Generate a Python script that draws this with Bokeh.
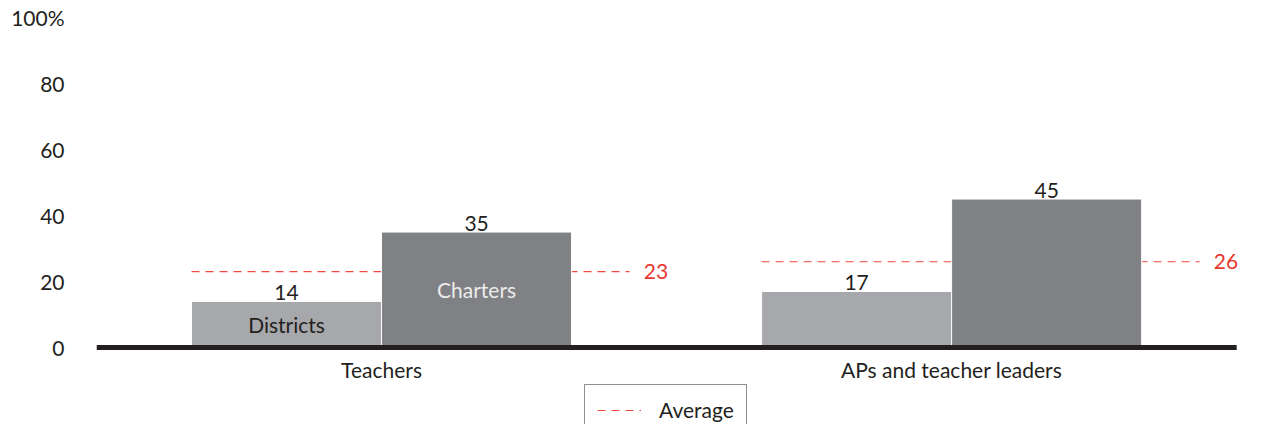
from bokeh.plotting import figure
from bokeh.models import (Range1d, FixedTicker, Legend, LegendItem, ColumnDataSource)
from bokeh.core.properties import value
from bokeh.embed import file_html
from bokeh.resources import INLINE

# ---- data ----
categories = ["Teachers", "APs and teacher leaders"]
series = ["Districts", "Charters"]
districts = [14, 17]
charters = [35, 45]
average = [23, 26]
average_labels = ["23", "26"]
y_ticks = [0, 20, 40, 60, 80, 100]
y_tick_labels = ["0", "20", "40", "60", "80", "100%"]

FONT = "Lato"
TXT = "#231f20"
C_DIST = "#a7a8ab"
C_CHART = "#808184"
RED = "#e8392f"
FS = "21px"

idx = list(range(len(categories)))
bw = 1 / 3
xd = [i - bw / 2 for i in idx]
xc = [i + bw / 2 for i in idx]

p = figure(width=1251, height=424, output_backend="svg", toolbar_location=None,
           x_range=Range1d(-0.5, 1.526), y_range=Range1d(-23.3, 100),
           min_border_left=96, min_border_right=0, min_border_top=17, min_border_bottom=0)
p.outline_line_color = None
p.grid.grid_line_color = None
p.background_fill_color = "white"
p.xaxis.visible = False

# average lines (behind bars)
avg_src = ColumnDataSource(dict(x0=[i - bw for i in idx], x1=[i + 0.435 for i in idx], y=average,
                                lx=[i + 0.46 for i in idx], lab=average_labels))
avg_r = p.segment(x0="x0", y0="y", x1="x1", y1="y", source=avg_src,
                  line_color="#ee4a40", line_width=1.1, line_dash="8 6", line_alpha=1)
p.text(x="lx", y="y", text="lab", source=avg_src, text_color=RED,
       text_font=value(FONT), text_font_size=FS, text_baseline="middle", text_align="left")

# bars
p.vbar(x=xd, top=districts, width=bw, bottom=0, fill_color=C_DIST, line_color="white", line_width=1)
p.vbar(x=xc, top=charters, width=bw, bottom=0, fill_color=C_CHART, line_color="white", line_width=1)

# baseline
p.segment(x0=[-0.5], y0=[0], x1=[1.5], y1=[0], line_color=TXT, line_width=5)

# value labels
p.text(x=xd, y=districts, text=[str(v) for v in districts], text_color=TXT,
       text_font=value(FONT), text_font_size=FS, text_baseline="bottom", text_align="center", y_offset=-1)
p.text(x=xc, y=charters, text=[str(v) for v in charters], text_color=TXT,
       text_font=value(FONT), text_font_size=FS, text_baseline="bottom", text_align="center", y_offset=-1)

# series labels inside first group
p.text(x=[xd[0]], y=[districts[0] / 2], text=[series[0]], text_color=TXT,
       text_font=value(FONT), text_font_size=FS, text_baseline="middle", text_align="center")
p.text(x=[xc[0]], y=[charters[0] / 2], text=[series[1]], text_color="#ececec",
       text_font=value(FONT), text_font_size=FS, text_baseline="middle", text_align="center")

# category labels
p.text(x=idx, y=[0] * len(idx), text=categories, text_color=TXT, y_offset=22,
       text_font=value(FONT), text_font_size=FS, text_baseline="middle", text_align="center")

# y axis
p.yaxis.ticker = FixedTicker(ticks=y_ticks)
p.yaxis.major_label_overrides = {t: l for t, l in zip(y_ticks, y_tick_labels)}
p.yaxis.axis_line_color = None
p.yaxis.major_tick_line_color = None
p.yaxis.minor_tick_line_color = None
p.yaxis.major_label_standoff = 26
p.yaxis.major_label_text_font = FONT
p.yaxis.major_label_text_font_size = FS
p.yaxis.major_label_text_color = TXT

legend = Legend(items=[LegendItem(label="Average", renderers=[avg_r])],
                orientation="horizontal", location=(488, -11),
                border_line_color=TXT, border_line_width=1,
                label_text_font=FONT, label_text_font_size=FS, label_text_color=TXT,
                glyph_width=44, glyph_height=20, label_height=22, label_standoff=18,
                padding=12, margin=0, spacing=0, background_fill_alpha=1)
p.add_layout(legend, "center")

open("out.html", "w").write(file_html(p, INLINE))
